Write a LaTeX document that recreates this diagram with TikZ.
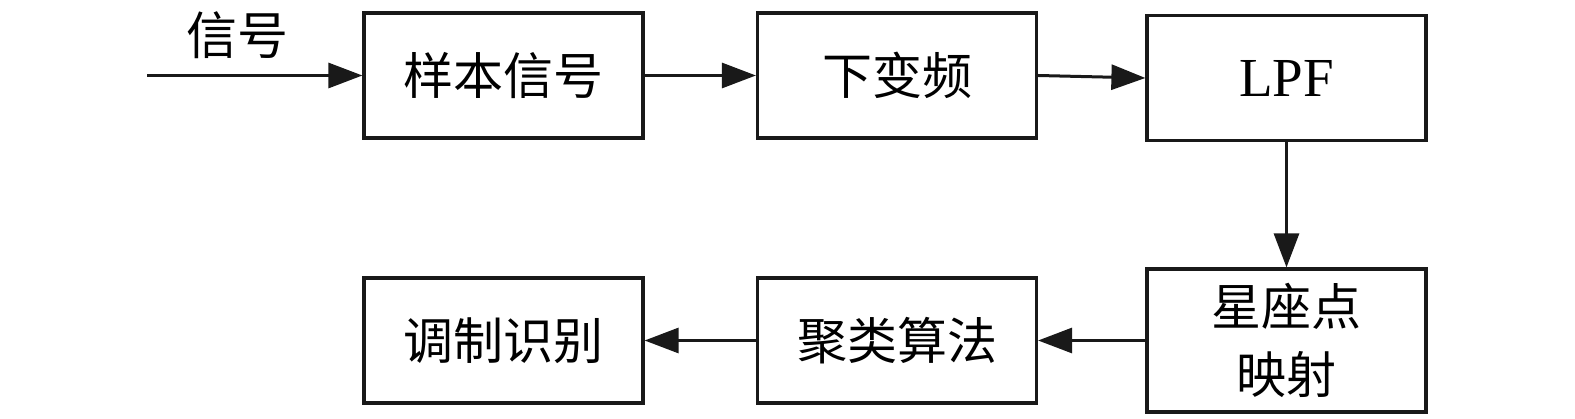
\documentclass[tikz,border=0pt]{standalone}
\usepackage{fontspec}
\setmainfont{Liberation Serif}
\newfontfamily\cjk{Noto Sans CJK SC}[Scale=1]
\usetikzlibrary{arrows.meta}
\begin{document}
\begin{tikzpicture}[x=1pt,y=-1pt,
  blockbox/.style={draw=black!90,line width=3.2pt,minimum width=279pt,minimum height=125pt,inner sep=0pt,
    font=\fontsize{50}{68}\selectfont\cjk,align=center},
  flow/.style={line width=3pt,draw=black!90,-{Triangle[length=34pt,width=25pt]}}]
\useasboundingbox (0,0) rectangle (1575,419);
\node[blockbox] (b1) at (503.5,75.5) {样本信号};
\node[blockbox] (b2) at (897,75.5) {下变频};
\node[blockbox,font=\fontsize{55}{66}\selectfont] (b3) at (1286.5,78) {LPF};
\node[blockbox,minimum height=143pt] (b4) at (1286.5,340.5) {星座点\\映射};
\node[blockbox] (b5) at (897,340.5) {聚类算法};
\node[blockbox] (b6) at (503.5,340.5) {调制识别};
\coordinate (in) at (147,75.5);
\node[font=\fontsize{51}{60}\selectfont\cjk] (lab) at (237,35) {信号};
\draw[flow] (in) -- (b1.west);
\draw[flow] (b1.east) -- (b2.west);
\draw[flow] (b2.east) -- (b3.west);
\draw[flow] (b3.south) -- (b4.north);
\draw[flow] (b4.west) -- (b5.east);
\draw[flow] (b5.west) -- (b6.east);
\end{tikzpicture}
\end{document}
